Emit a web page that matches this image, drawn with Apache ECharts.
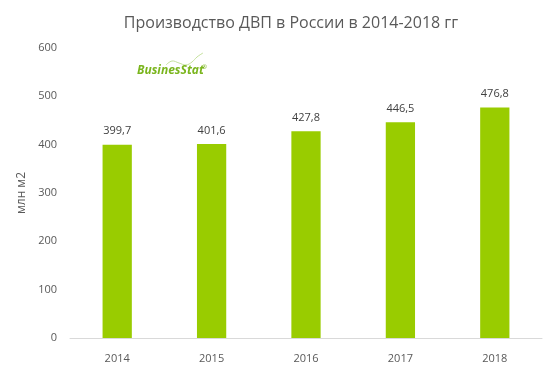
<!DOCTYPE html>
<html><head><meta charset="utf-8">
<script src="https://cdn.jsdelivr.net/npm/echarts@6/dist/echarts.min.js"></script>
<style>html,body{margin:0;padding:0;background:#fff}#c{width:556px;height:372px}</style>
</head><body><div id="c"></div>
<script>
const categories = ['2014','2015','2016','2017','2018'];
const values = [399.7, 401.6, 427.8, 446.5, 476.8];
const valueLabels = ['399,7','401,6','427,8','446,5','476,8'];
const yTicks = [0,100,200,300,400,500,600];
const titleText = 'Производство ДВП в России в 2014-2018 гг';
const yName = 'млн м2';
const FONT = 'Open Sans';
const chart = echarts.init(document.getElementById('c'));
chart.setOption({
  animation:false,
  title:{text:titleText,left:286,top:10,textAlign:'center',textStyle:{fontFamily:FONT,fontSize:16,fontWeight:'normal',color:'#595959'}},
  graphic:[
    {type:'polyline',shape:{points:[[166,65],[172,61],[179,63],[186,65],[192,62],[197,57],[203,53]],smooth:0.4},style:{fill:null,stroke:'#c4e09c',lineWidth:1}},
    {type:'text',left:137,top:65,style:{text:'BusinesStat',fontFamily:FONT,fontSize:12,fontWeight:'bold',fontStyle:'italic',fill:'#7ab51d'}},
    {type:'text',left:202,top:64,style:{text:'®',fontFamily:FONT,fontSize:6,fill:'#7ab51d'}}
  ],
  grid:{left:70,right:14,top:48,bottom:34},
  xAxis:{type:'category',data:categories,axisLine:{lineStyle:{color:'#d9d9d9'}},axisTick:{show:false},
    axisLabel:{fontFamily:FONT,fontSize:11,color:'#595959',margin:15}},
  yAxis:{type:'value',min:0,max:600,interval:100,splitLine:{show:false},axisLine:{show:false},
    name:yName,nameLocation:'middle',nameGap:37,nameTextStyle:{fontFamily:FONT,fontSize:12,color:'#595959'},
    axisLabel:{fontFamily:FONT,fontSize:11,color:'#595959',margin:13,formatter:v=>yTicks.includes(v)?String(v):''}},
  series:[{type:'bar',data:values,barWidth:'31%',itemStyle:{color:'#99cc00'},
    label:{show:true,position:'top',distance:8,fontFamily:FONT,fontSize:11,color:'#404040',formatter:p=>valueLabels[p.dataIndex]}}]
});
</script></body></html>
